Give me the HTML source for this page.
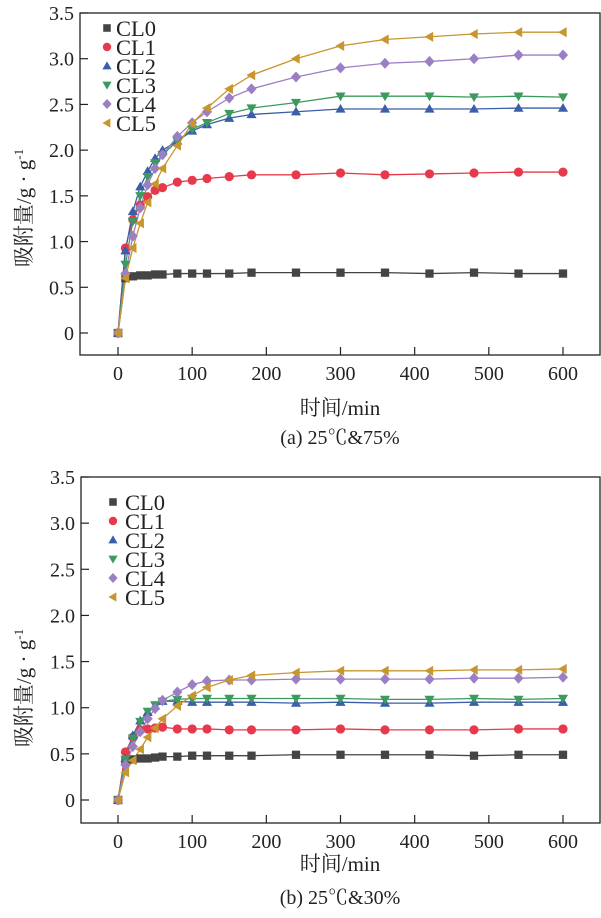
<!DOCTYPE html>
<html><head><meta charset="utf-8"><style>
body{margin:0;background:#fff;}
svg text{font-family:"Liberation Serif","Noto Serif CJK SC",serif;fill:#222;}
</style></head><body>
<svg id="chart" width="601" height="913" xmlns="http://www.w3.org/2000/svg"></svg>
<script>
const times=[0,10,20,30,40,50,60,80,100,120,150,180,240,300,360,420,480,540,600];
const seriesNames=["CL0","CL1","CL2","CL3","CL4","CL5"];
const xTicks=[0,100,200,300,400,500,600];
const yTicks=[0,0.5,1.0,1.5,2.0,2.5,3.0,3.5];
const yTickLabels=["0","0.5","1.0","1.5","2.0","2.5","3.0","3.5"];
const a_CL0=[0,0.60,0.62,0.63,0.63,0.64,0.64,0.65,0.65,0.65,0.65,0.66,0.66,0.66,0.66,0.65,0.66,0.65,0.65];
const a_CL1=[0,0.93,1.24,1.40,1.49,1.56,1.59,1.65,1.67,1.69,1.71,1.73,1.73,1.75,1.73,1.74,1.75,1.76,1.76];
const a_CL2=[0,0.90,1.33,1.60,1.77,1.91,2.00,2.10,2.21,2.28,2.35,2.39,2.42,2.45,2.45,2.45,2.45,2.46,2.46];
const a_CL3=[0,0.75,1.22,1.50,1.71,1.86,1.95,2.10,2.23,2.30,2.40,2.46,2.52,2.59,2.59,2.59,2.58,2.59,2.58];
const a_CL4=[0,0.65,1.06,1.37,1.62,1.80,1.95,2.15,2.30,2.42,2.57,2.67,2.80,2.90,2.95,2.97,3.00,3.04,3.04];
const a_CL5=[0,0.60,0.93,1.20,1.43,1.63,1.80,2.05,2.29,2.46,2.67,2.82,3.00,3.14,3.21,3.24,3.27,3.29,3.29];
const b_CL0=[0,0.42,0.44,0.45,0.45,0.46,0.47,0.47,0.48,0.48,0.48,0.48,0.49,0.49,0.49,0.49,0.48,0.49,0.49];
const b_CL1=[0,0.52,0.68,0.76,0.77,0.78,0.79,0.77,0.77,0.77,0.76,0.76,0.76,0.77,0.76,0.76,0.76,0.77,0.77];
const b_CL2=[0,0.45,0.70,0.86,0.95,1.02,1.07,1.07,1.06,1.06,1.06,1.06,1.05,1.06,1.05,1.05,1.06,1.06,1.06];
const b_CL3=[0,0.44,0.67,0.85,0.96,1.03,1.07,1.09,1.10,1.10,1.10,1.10,1.10,1.10,1.09,1.09,1.10,1.09,1.10];
const b_CL4=[0,0.38,0.58,0.74,0.88,0.99,1.08,1.17,1.25,1.29,1.30,1.30,1.31,1.31,1.31,1.31,1.32,1.32,1.33];
const b_CL5=[0,0.30,0.43,0.55,0.68,0.78,0.88,1.02,1.13,1.22,1.30,1.35,1.38,1.40,1.40,1.40,1.41,1.41,1.42];

const colors=["#444444","#e63a4c","#3a5ea8","#3c9a5e","#9b7fc4","#c8962e"];
const shapes=["square","circle","up","down","diamond","left"];
const NS="http://www.w3.org/2000/svg";
const svg=document.getElementById("chart");
function mk(tag,attrs,parent){const e=document.createElementNS(NS,tag);for(const k in attrs)e.setAttribute(k,attrs[k]);(parent||svg).appendChild(e);return e;}
function marker(g,shape,cx,cy,color,r){
  let e;
  if(shape==="square")e=mk("rect",{x:cx-r*0.9,y:cy-r*0.9,width:r*1.8,height:r*1.8,fill:color},g);
  else if(shape==="circle")e=mk("circle",{cx:cx,cy:cy,r:r,fill:color},g);
  else{let p;
    if(shape==="up")p=[[cx,cy-r*1.1],[cx+r*1.1,cy+r*0.8],[cx-r*1.1,cy+r*0.8]];
    else if(shape==="down")p=[[cx,cy+r*1.1],[cx+r*1.1,cy-r*0.8],[cx-r*1.1,cy-r*0.8]];
    else if(shape==="diamond")p=[[cx,cy-r*1.2],[cx+r*1.1,cy],[cx,cy+r*1.2],[cx-r*1.1,cy]];
    else p=[[cx-r*1.1,cy],[cx+r*0.8,cy-r*1.1],[cx+r*0.8,cy+r*1.1]];
    e=mk("polygon",{points:p.map(q=>q.join(",")).join(" "),fill:color},g);}
  return e;
}
function chart(cfg){
  const {left,top,right,bottom,x0,x600,y0,y35,data,legendX,legendY,legendTx,caption,titleY,capY,labelY,id}=cfg;
  const xs=v=>x0+(x600-x0)*v/600;
  const ys=v=>y0+(y35-y0)*v/3.5;
  const g=mk("g",{});
  
  
  const frame=mk("rect",{x:left,y:top,width:right-left,height:bottom-top,fill:"none",stroke:"#222","stroke-width":1.3},g);
  
  
  xTicks.forEach(t=>{
    mk("line",{x1:xs(t),x2:xs(t),y1:bottom,y2:bottom-8,stroke:"#222","stroke-width":1.2},g);
    const tx=mk("text",{x:xs(t),y:bottom+25,"text-anchor":"middle","font-size":20},g);tx.textContent=t;
    
    
  });
  yTicks.forEach((t,i)=>{
    mk("line",{x1:left,x2:left+8,y1:ys(t),y2:ys(t),stroke:"#222","stroke-width":1.2},g);
    const tx=mk("text",{x:left-6,y:ys(t)+7,"text-anchor":"end","font-size":20},g);tx.textContent=yTickLabels[i];
    
    
  });
  data.forEach((arr,si)=>{
    const sg=mk("g",{},g);
    
    
    mk("polyline",{points:arr.map((v,i)=>xs(times[i])+","+ys(v)).join(" "),fill:"none",stroke:colors[si],"stroke-width":1.3},sg);
  });
  data.forEach((arr,si)=>{
    arr.forEach((v,i)=>{const m=marker(g,shapes[si],xs(times[i]),ys(v),colors[si],4.6);
      
      });
  });
  seriesNames.forEach((n,si)=>{
    const yy=legendY+si*19;
    const m=marker(g,shapes[si],legendX,yy,colors[si],4.2);
    
    
    const t=mk("text",{x:legendTx,y:yy+8,"font-size":22.5},g);t.textContent=n;
    
    
  });
  const xt=mk("text",{x:340,y:titleY+7,"text-anchor":"middle","font-size":21},g);xt.textContent="时间/min";
  
  
  const cp=mk("text",{x:340,y:capY+7,"text-anchor":"middle","font-size":20},g);cp.textContent=caption;
  
  
  const yl=mk("text",{x:0,y:0,"text-anchor":"middle","font-size":21,transform:"translate(31,"+labelY+") rotate(-90)"},g);
  yl.innerHTML='吸附量/g · g<tspan dy="-8" font-size="13">-1</tspan>';
  
  
}
chart({id:"a",left:80,top:13,right:600,bottom:355,x0:118,x600:563,y0:333,y35:13,
  data:[a_CL0,a_CL1,a_CL2,a_CL3,a_CL4,a_CL5],legendX:107,legendY:28,legendTx:116,
  caption:"(a) 25℃&75%",titleY:408,capY:437,labelY:208});
chart({id:"b",left:81,top:477,right:600,bottom:823,x0:118,x600:563,y0:800,y35:477,
  data:[b_CL0,b_CL1,b_CL2,b_CL3,b_CL4,b_CL5],legendX:113,legendY:502,legendTx:125,
  caption:"(b) 25℃&30%",titleY:864,capY:897,labelY:688});
</script>
</body></html>
